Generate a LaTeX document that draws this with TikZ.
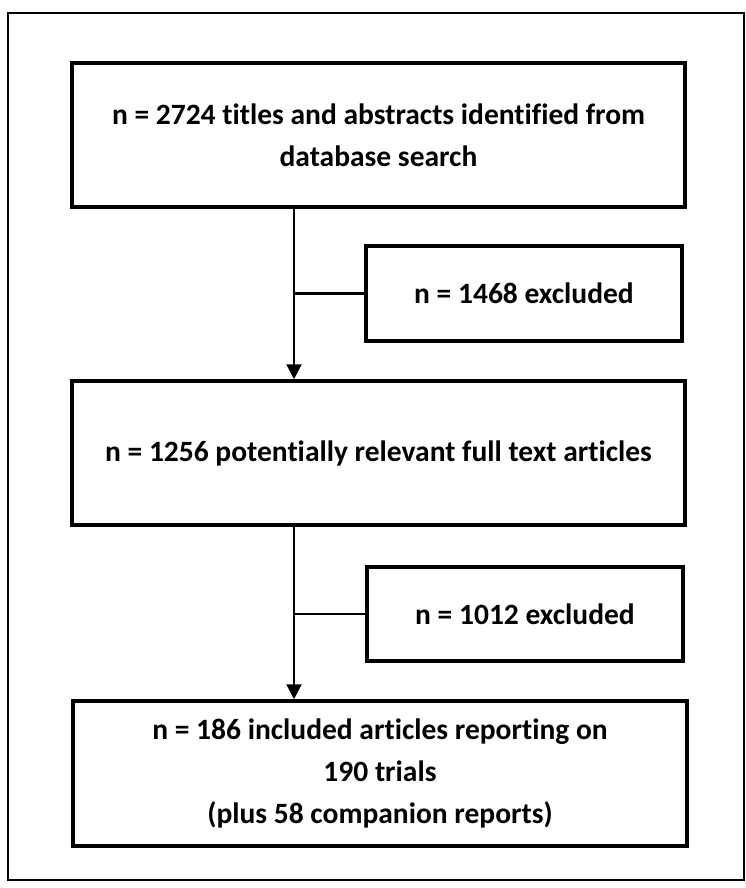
\documentclass[tikz,border=0pt]{standalone}
\usepackage{fontspec}
\setmainfont{Carlito}[Ligatures=NoCommon]
\usetikzlibrary{arrows.meta}
\begin{document}
\begin{tikzpicture}[x=1pt,y=-1pt,
  box/.style={draw,line width=3.5pt,align=center,inner sep=0pt,
    font=\fontsize{29.5}{42}\selectfont\bfseries},
  wide/.style={box,minimum width=613pt,minimum height=144pt},
  side/.style={box,minimum width=316pt,minimum height=95pt},
  conn/.style={line width=2.2pt},
  arr/.style={conn,-{Triangle[width=15pt,length=15pt]}}]
\useasboundingbox (0,0) rectangle (746,888);
\draw[line width=2.8pt] (8,13) rectangle (744,880);
\node[wide] (b1) at (378.5,135) {n = 2724 titles and abstracts identified from\\database search};
\node[side] (b2) at (524,293.5) {n = 1468 excluded};
\node[wide] (b3) at (378.5,453) {n = 1256 potentially relevant full text articles};
\node[side,minimum height=94pt] (b4) at (525,614) {n = 1012 excluded};
\node[wide,minimum width=614pt,minimum height=145pt] (b5) at (380,773.5) {n = 186 included articles reporting on\\190 trials\\(plus 58 companion reports)};
\coordinate (s) at (294,0);
\draw[arr] (b1.south -| s) -- (b3.north -| s);
\draw[arr] (b3.south -| s) -- (b5.north -| s);
\draw[conn] (b2.west) -- (b2.west -| s);
\draw[conn] (b4.west) -- (b4.west -| s);
\end{tikzpicture}
\end{document}
